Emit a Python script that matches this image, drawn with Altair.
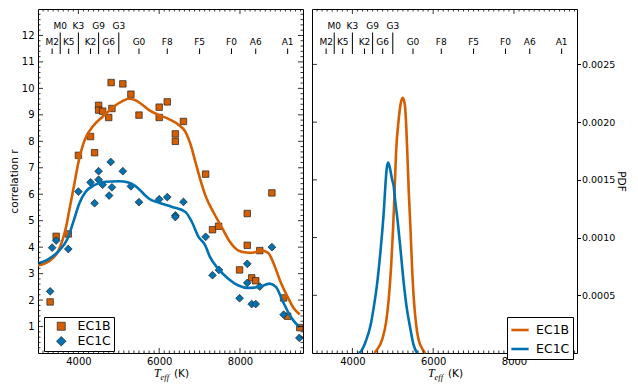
import altair as alt
import pandas as pd

ORANGE = "#D55E00"
BLUE = "#0072B2"
SERIES = ["EC1B", "EC1C"]
DIAMOND = "M0,-1.2L1.2,0L0,1.2L-1.2,0Z"

# ---- scatter points (Teff, correlation r) ----
b_T = [3300, 3450, 3750, 4000, 4300, 4400, 4500, 4500, 4600, 4750, 4810, 4830, 5100, 5300,
       5500, 6000, 6000, 6200, 6400, 6400, 6600, 7150, 7320, 7470, 7990, 8180, 8180, 8290,
       8390, 8490, 8790, 9080, 9180, 9480]
b_r = [1.93, 4.41, 4.50, 7.47, 8.18, 7.57, 9.36, 9.18, 9.14, 8.90, 10.22, 9.24, 10.17, 9.78,
       8.99, 9.29, 8.90, 9.49, 8.28, 8.00, 8.75, 6.76, 4.66, 4.79, 3.14, 5.27, 4.07, 2.84,
       2.73, 3.87, 6.05, 2.08, 1.39, 0.96]
c_T = [3300, 3350, 3450, 3750, 4000, 4300, 4400, 4500, 4500, 4600, 4800, 4830, 4760, 5100,
       5300, 5500, 6000, 6200, 6600, 6400, 6400, 7150, 7320, 7480, 8180, 8790, 8180, 8490,
       7990, 8290, 8390, 9080, 9470]
c_r = [2.33, 3.98, 4.25, 3.93, 6.10, 6.45, 5.66, 6.87, 6.55, 6.36, 7.22, 6.26, 5.95, 6.87,
       6.30, 5.70, 5.81, 5.89, 5.71, 5.20, 5.14, 4.39, 2.94, 3.14, 3.37, 4.00, 2.65, 2.51,
       2.07, 1.85, 1.85, 1.45, 0.57]

# ---- smooth trend curves ----
bc_T = [3000, 3250, 3500, 3700, 3800, 3900, 4000, 4100, 4200, 4350, 4600, 4850, 5100, 5250,
        5400, 5550, 5750, 6000, 6250, 6500, 6650, 6770, 6900, 7000, 7150, 7350, 7550, 7750,
        7950, 8150, 8300, 8550, 8700, 8850, 9000, 9180, 9340, 9480]
bc_r = [3.31, 3.45, 3.85, 4.80, 5.60, 6.40, 7.20, 7.80, 8.20, 8.55, 8.93, 9.28, 9.53, 9.61,
        9.56, 9.42, 9.18, 8.99, 8.83, 8.60, 8.36, 7.91, 7.20, 6.65, 5.93, 5.30, 4.75, 4.20,
        3.88, 3.80, 3.79, 3.87, 3.78, 3.32, 2.70, 2.12, 1.67, 1.46]
cc_T = [3000, 3280, 3530, 3730, 3900, 4020, 4180, 4390, 4670, 5000, 5240, 5490, 5650, 5750,
        6000, 6320, 6650, 6810, 6970, 7140, 7250, 7460, 7710, 7950, 8200, 8480, 8730, 8890,
        9050, 9260, 9470]
cc_r = [3.38, 3.57, 3.88, 4.32, 5.08, 5.64, 6.09, 6.34, 6.47, 6.49, 6.44, 6.21, 5.96, 5.83,
        5.68, 5.52, 5.33, 4.95, 4.40, 4.07, 3.65, 3.19, 2.81, 2.56, 2.46, 2.50, 2.62, 2.50,
        1.99, 1.36, 0.98]

# ---- PDFs ----
bp_T = [4550, 4590, 4740, 4835, 4900, 4960, 5010, 5045, 5080, 5145, 5195, 5245, 5295, 5325,
        5360, 5395, 5435, 5475, 5520, 5570, 5635, 5760, 5800]
bp_v = [0.0, 0.00002, 0.00012, 0.00027, 0.00047, 0.00076, 0.00110, 0.00140, 0.00173, 0.00202,
        0.00216, 0.00221, 0.00216, 0.00202, 0.00173, 0.00140, 0.00110, 0.00076, 0.00047,
        0.00027, 0.00012, 0.00002, 0.0]
cp_T = [4150, 4200, 4330, 4450, 4535, 4615, 4700, 4780, 4820, 4850, 4885, 4930, 4985, 5020,
        5065, 5105, 5190, 5270, 5350, 5435, 5515, 5600]
cp_v = [0.0, 0.00001, 0.00010, 0.00024, 0.00041, 0.00061, 0.00090, 0.00124, 0.00147, 0.00160,
        0.00165, 0.00160, 0.00150, 0.00145, 0.00130, 0.00119, 0.00090, 0.00061, 0.00038,
        0.00021, 0.00007, 0.0]

# ---- spectral type markers ----
sp_low = ["M2", "K5", "K2", "G6", "G0", "F8", "F5", "F0", "A6", "A1"]
sp_low_T = [3350, 3760, 4300, 4750, 5500, 6200, 7000, 7790, 8390, 9180]
sp_up = ["M0", "K3", "G9", "G3"]
sp_up_T = [3550, 4000, 4500, 5000]

# ---- ticks ----
x_major = [4000, 6000, 8000]
x_minor = [t for t in range(3125, 9560, 125) if t % 2000 != 0]
yl_major = list(range(1, 13))
yl_minor = [round(i * 0.2, 1) for i in range(1, 65) if i % 5 != 0]
yr_major = [0.0005, 0.0010, 0.0015, 0.0020, 0.0025]

W, H = 265, 344
FONT = "DejaVu Sans"
xs = alt.Scale(domain=[3000, 9560], nice=False, zero=False)
xaxis = alt.Axis(values=x_major, format="d", ticks=False, domain=False, grid=False,
                 labelPadding=3, title=None, labelFontSize=10)


def x_ticks(W, H):
    layers = []
    for vals, L in ((x_major, 5), (x_minor, 2.5)):
        df = pd.DataFrame({"T": vals})
        base = alt.Chart(df).mark_rule(color="black", strokeWidth=0.8)
        layers.append(base.encode(x=alt.X("T:Q", scale=xs, axis=xaxis),
                                  y=alt.value(H - L), y2=alt.value(H)))
        layers.append(base.encode(x=alt.X("T:Q", scale=xs, axis=xaxis),
                                  y=alt.value(0), y2=alt.value(L)))
    return layers


def y_ticks(vals, L, ysc, yax, left=True, right=True):
    df = pd.DataFrame({"v": vals})
    base = alt.Chart(df).mark_rule(color="black", strokeWidth=0.8)
    out = []
    if left:
        out.append(base.encode(y=alt.Y("v:Q", scale=ysc, axis=yax),
                               x=alt.value(0), x2=alt.value(L)))
    if right:
        out.append(base.encode(y=alt.Y("v:Q", scale=ysc, axis=yax),
                               x=alt.value(W - L), x2=alt.value(W)))
    return out


def spectral():
    low = pd.DataFrame({"T": sp_low_T, "s": sp_low})
    up = pd.DataFrame({"T": sp_up_T, "s": sp_up})
    X = alt.X("T:Q", scale=xs, axis=xaxis)
    return [
        alt.Chart(low).mark_text(font=FONT, fontSize=9, baseline="middle", color="black")
        .encode(x=X, y=alt.value(33), text="s:N"),
        alt.Chart(up).mark_text(font=FONT, fontSize=9, baseline="middle", color="black")
        .encode(x=X, y=alt.value(17), text="s:N"),
        alt.Chart(low).mark_rule(color="black", strokeWidth=1)
        .encode(x=X, y=alt.value(39.5), y2=alt.value(45)),
        alt.Chart(up).mark_rule(color="black", strokeWidth=1)
        .encode(x=X, y=alt.value(23.5), y2=alt.value(45)),
    ]


def xtitle():
    d = pd.DataFrame({"a": [0]})
    return [
        alt.Chart(d).mark_text(text="T", font="Liberation Serif", fontStyle="italic",
                               fontSize=12, align="left", baseline="alphabetic", color="black")
        .encode(x=alt.value(116), y=alt.value(368)),
        alt.Chart(d).mark_text(text="eff", font="Liberation Serif", fontStyle="italic",
                               fontSize=8.5, align="left", baseline="alphabetic", color="black")
        .encode(x=alt.value(122.5), y=alt.value(371)),
        alt.Chart(d).mark_text(text="(K)", font=FONT, fontSize=10.5, align="left",
                               baseline="alphabetic", color="black")
        .encode(x=alt.value(136), y=alt.value(368)),
    ]


# ---------------- left panel ----------------
ysL = alt.Scale(domain=[0, 13], nice=False, zero=False)
yaxL = alt.Axis(values=yl_major, ticks=False, domain=False, grid=False, labelPadding=4,
                title="correlation r", titleFontWeight="normal", titleFontSize=10.5,
                titlePadding=2, labelFontSize=10)

pts = pd.DataFrame({"T": b_T + c_T, "v": b_r + c_r,
                    "series": ["EC1B"] * len(b_T) + ["EC1C"] * len(c_T)})
legL = alt.Legend(orient="none", legendX=6, legendY=308, title=None, fillColor="white",
                  strokeColor="black", padding=3, rowPadding=2, labelFontSize=12.5,
                  labelFont=FONT, labelColor="black", symbolOffset=8, labelOffset=10,
                  symbolSize=64, symbolStrokeColor="#222", symbolStrokeWidth=0.7,
                  cornerRadius=0)
scatter = alt.Chart(pts).mark_point(filled=True, stroke="#222", strokeWidth=0.7,
                                    opacity=1, size=42).encode(
    x=alt.X("T:Q", scale=xs, axis=xaxis),
    y=alt.Y("v:Q", scale=ysL, axis=yaxL),
    color=alt.Color("series:N", scale=alt.Scale(domain=SERIES, range=[ORANGE, BLUE]),
                    legend=legL),
    shape=alt.Shape("series:N", scale=alt.Scale(domain=SERIES, range=["square", DIAMOND]),
                    legend=legL),
)

bcurve = alt.Chart(pd.DataFrame({"T": bc_T, "v": bc_r})).mark_line(
    color=ORANGE, strokeWidth=2.6, interpolate="monotone").encode(
    x=alt.X("T:Q", scale=xs, axis=xaxis), y=alt.Y("v:Q", scale=ysL, axis=yaxL))
ccurve = alt.Chart(pd.DataFrame({"T": cc_T, "v": cc_r})).mark_line(
    color=BLUE, strokeWidth=2.6, interpolate="monotone").encode(
    x=alt.X("T:Q", scale=xs, axis=xaxis), y=alt.Y("v:Q", scale=ysL, axis=yaxL))

left = alt.layer(
    scatter, bcurve, ccurve,
    *x_ticks(W, H),
    *y_ticks(yl_major, 5, ysL, yaxL),
    *y_ticks(yl_minor, 2.5, ysL, yaxL),
    *spectral(), *xtitle(),
).properties(width=W, height=H)

# ---------------- right panel ----------------
ysR = alt.Scale(domain=[0, 0.00298], nice=False, zero=False)
yaxR = alt.Axis(orient="right", values=yr_major, format=".4f", ticks=True, tickSize=3.5,
                tickColor="black", domain=False, grid=False, labelPadding=1, title="PDF",
                titleAngle=90, titleFontWeight="normal", titleFontSize=10.5, titlePadding=1,
                labelFontSize=9.5)
pdf = pd.DataFrame({"T": bp_T + cp_T, "v": bp_v + cp_v,
                    "series": ["EC1B"] * len(bp_T) + ["EC1C"] * len(cp_T)})
legR = alt.Legend(orient="none", legendX=195, legendY=308, title=None, fillColor="white",
                  strokeColor="black", padding=3, rowPadding=2, labelFontSize=12.5,
                  labelFont=FONT, labelColor="black", symbolType="stroke",
                  symbolStrokeWidth=2.6, symbolSize=300, symbolOffset=0, labelOffset=6,
                  cornerRadius=0)
lines = alt.Chart(pdf).mark_line(strokeWidth=2.6, interpolate="monotone").encode(
    x=alt.X("T:Q", scale=xs, axis=xaxis),
    y=alt.Y("v:Q", scale=ysR, axis=yaxR),
    color=alt.Color("series:N", scale=alt.Scale(domain=SERIES, range=[ORANGE, BLUE]),
                    legend=legR),
    detail="series:N",
)

right = alt.layer(
    lines,
    *x_ticks(W, H),
    *y_ticks(yr_major, 5, ysR, yaxR, left=True, right=False),
    *spectral(), *xtitle(),
).properties(width=W, height=H)

chart = alt.hconcat(left, right, spacing=5).resolve_scale(
    color="independent", shape="independent"
).properties(padding={"left": 0, "top": 0, "right": 2, "bottom": 0}).configure_view(
    stroke="black", strokeWidth=1
).configure_axis(
    labelFont=FONT, titleFont=FONT, labelColor="black", titleColor="black"
)

chart.save("out.html", embed_options={"renderer": "svg", "actions": False})
